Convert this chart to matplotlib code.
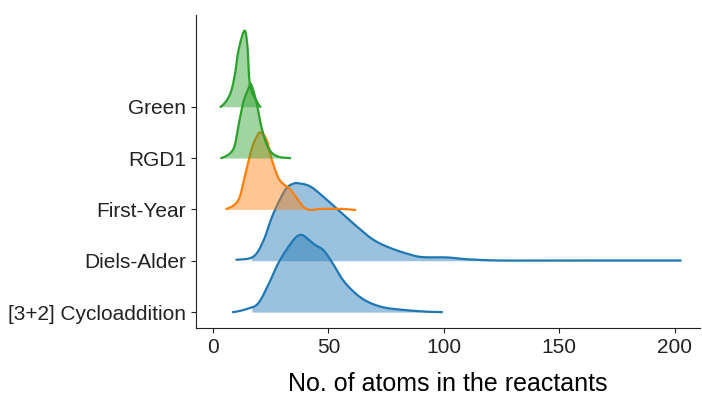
import matplotlib.pyplot as plt
import numpy as np

plt.rcParams['font.family'] = ['Liberation Sans', 'DejaVu Sans']

# categories, bottom to top
labels = ['[3+2] Cycloaddition', 'Diels-Alder', 'First-Year', 'RGD1', 'Green']
colors = ['#1f77b4', '#1f77b4', '#ff7f0e', '#2ca02c', '#2ca02c']

# density curves (x = no. of atoms, h = scaled height above baseline)
cyclo_x = [8.7, 15.2, 19.5, 23.9, 28.2, 32.6, 36.2, 38.6, 41.2, 44.1, 47.7, 51.4, 55.7,
           60.1, 65.8, 73.1, 81.8, 91.9, 99.1]
cyclo_h = [0.0, 0.07, 0.17, 0.53, 0.95, 1.27, 1.47, 1.50, 1.42, 1.31, 1.21, 0.98, 0.66,
           0.43, 0.23, 0.10, 0.045, 0.01, 0.0]

diels_x = [10.2, 17.4, 21.7, 25.3, 28.9, 31.9, 34.7, 36.9, 42.0, 47.7, 54.9, 62.2, 69.4,
           76.7, 85.4, 91.1, 101.3, 110.0, 124.4, 153.4, 182.3, 202.6]
diels_h = [0.02, 0.08, 0.38, 0.83, 1.19, 1.42, 1.50, 1.51, 1.45, 1.25, 0.96, 0.67, 0.41,
           0.25, 0.12, 0.07, 0.065, 0.03, 0.005, 0.005, 0.005, 0.005]

first_x = [5.8, 10.9, 13.8, 16.7, 18.8, 20.6, 23.2, 25.3, 28.2, 31.1, 33.3, 36.9, 39.1,
           42.0, 46.3, 52.1, 56.4, 61.5]
first_h = [0.01, 0.18, 0.66, 1.18, 1.41, 1.50, 1.35, 0.99, 0.62, 0.47, 0.40, 0.18, 0.05,
           -0.01, 0.01, 0.01, 0.01, -0.01]

rgd1_x = [3.6, 8.7, 10.9, 13.0, 15.2, 16.4, 18.8, 21.0, 23.9, 27.5, 33.3]
rgd1_h = [0.0, 0.17, 0.62, 1.08, 1.34, 1.44, 1.08, 0.59, 0.20, 0.04, 0.0]

green_x = [3.3, 7.2, 9.4, 10.9, 13.5, 14.8, 15.6, 16.7, 18.5, 20.4]
green_h = [0.0, 0.23, 0.62, 1.08, 1.48, 1.21, 0.57, 0.30, 0.14, 0.0]

curves_x = [cyclo_x, diels_x, first_x, rgd1_x, green_x]
curves_h = [cyclo_h, diels_h, first_h, rgd1_h, green_h]
fill_from = [16.7, 16.5, None, None, None]


def catmull(xs, ys, n=30):
    # smooth curve through the read points
    xs = np.asarray(xs, float)
    ys = np.asarray(ys, float)
    px = np.concatenate([[2 * xs[0] - xs[1]], xs, [2 * xs[-1] - xs[-2]]])
    py = np.concatenate([[ys[0]], ys, [ys[-1]]])
    ox, oy = [], []
    for j in range(1, len(px) - 2):
        t = np.linspace(0, 1, n, endpoint=False)
        for p, o in ((px, ox), (py, oy)):
            p0, p1, p2, p3 = p[j - 1], p[j], p[j + 1], p[j + 2]
            o.extend(0.5 * (2 * p1 + (-p0 + p2) * t + (2 * p0 - 5 * p1 + 4 * p2 - p3) * t ** 2
                            + (-p0 + 3 * p1 - 3 * p2 + p3) * t ** 3))
    ox.append(xs[-1])
    oy.append(ys[-1])
    return np.array(ox), np.array(oy)


fig = plt.figure(figsize=(7.02, 4.01), dpi=100)
ax = fig.add_axes([0.279, 0.182, 0.718, 0.781])

for i, (xs, hs) in enumerate(zip(curves_x, curves_h)):
    xf, hf = catmull(xs, hs)
    ax.plot(xf, hf + i, color=colors[i], lw=1.6, zorder=2 * i + 2)
    m = np.ones_like(xf, dtype=bool) if fill_from[i] is None else xf >= fill_from[i]
    ax.fill_between(xf[m], i, hf[m] + i, color=colors[i], alpha=0.45, lw=0, zorder=2 * i + 1)

ax.set_yticks(range(len(labels)))
ax.set_yticklabels(labels)
ax.set_xticks([0, 50, 100, 150, 200])
ax.set_xlim(-7.5, 211)
ax.set_ylim(-0.31, 5.79)
ax.tick_params(labelsize=15, colors='#222222')
ax.set_xlabel('No. of atoms in the reactants', fontsize=18, labelpad=11)
for s in ['top', 'right']:
    ax.spines[s].set_visible(False)
for s in ['left', 'bottom']:
    ax.spines[s].set_color('#222222')

fig.savefig('out.png', dpi=100)
